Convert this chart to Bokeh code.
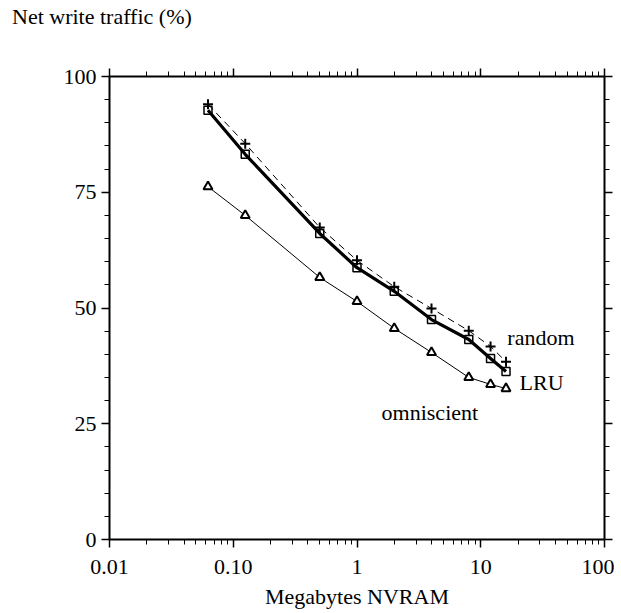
from bokeh.plotting import figure
from bokeh.models import (LogAxis, LinearAxis, FixedTicker, Div, Label, Range1d)
from bokeh.layouts import column
from bokeh.embed import file_html
from bokeh.resources import INLINE

# ---- data ----
nvram_mb = [0.0625, 0.125, 0.5, 1, 2, 4, 8, 12, 16]
random_traffic = [94.0, 85.5, 67.4, 60.3, 54.6, 49.9, 45.1, 41.7, 38.4]
lru_traffic = [92.7, 83.2, 66.1, 58.7, 53.6, 47.5, 43.2, 39.1, 36.3]
omniscient_traffic = [76.2, 70.0, 56.6, 51.4, 45.6, 40.4, 35.0, 33.5, 32.6]

x_tick_values = [0.01, 0.1, 1, 10, 100]
x_tick_labels = ["0.01", "0.10", "1", "10", "100"]
y_tick_values = [0, 25, 50, 75, 100]
y_minor_values = [5, 10, 15, 20, 30, 35, 40, 45, 55, 60, 65, 70, 80, 85, 90, 95]

series_labels = ["random", "LRU", "omniscient"]
label_x = [16.4, 20.6, 1.58]
label_y = [43.6, 33.9, 27.4]

FONT = "Liberation Serif"
FS = "22px"

x_minor = [m * d for d in x_tick_values[:-1] for m in range(2, 10)]

p = figure(x_axis_type="log", x_range=Range1d(0.01, 100), y_range=Range1d(0, 100),
           frame_width=495, frame_height=463,
           min_border_left=109, min_border_right=10, min_border_top=46, min_border_bottom=10,
           output_backend="svg", toolbar_location=None)
p.outline_line_color = None
p.xgrid.visible = False
p.ygrid.visible = False
p.background_fill_color = "white"
p.border_fill_color = "white"

xt = FixedTicker(ticks=x_tick_values, minor_ticks=x_minor)
yt = FixedTicker(ticks=y_tick_values, minor_ticks=y_minor_values)

def style(ax, labels=True):
    ax.axis_line_width = 2
    ax.axis_line_color = "black"
    ax.major_tick_in = 0
    ax.major_tick_out = 8
    ax.minor_tick_in = 0
    ax.minor_tick_out = 5
    ax.major_tick_line_width = 1.5
    ax.minor_tick_line_width = 1
    ax.major_tick_line_color = "black"
    ax.minor_tick_line_color = "black"
    ax.major_label_text_font = FONT
    ax.major_label_text_font_size = FS
    ax.major_label_text_color = "black"
    ax.axis_label_text_font = FONT
    ax.axis_label_text_font_size = FS
    ax.axis_label_text_font_style = "normal"
    ax.axis_label_text_color = "black"
    if not labels:
        ax.major_label_text_font_size = "0px"
        ax.major_label_text_alpha = 0

xa = p.xaxis[0]
xa.ticker = xt
xa.major_label_overrides = {v: l for v, l in zip(x_tick_values, x_tick_labels)}
xa.axis_label = "Megabytes NVRAM"
xa.major_label_standoff = 12
xa.axis_label_standoff = 7
style(xa)

ya = p.yaxis[0]
ya.ticker = yt
ya.major_label_standoff = 5
style(ya)

top = LogAxis(ticker=FixedTicker(ticks=x_tick_values, minor_ticks=x_minor))
style(top, labels=False)
p.add_layout(top, "above")
right = LinearAxis(ticker=FixedTicker(ticks=y_tick_values, minor_ticks=y_minor_values))
style(right, labels=False)
p.add_layout(right, "right")

# series
p.line(nvram_mb, random_traffic, line_color="black", line_width=1, line_dash="7 5")
p.scatter(nvram_mb, random_traffic, marker="cross", size=10, line_color="black", line_width=2)

p.line(nvram_mb, lru_traffic, line_color="black", line_width=3.2)
p.scatter(nvram_mb, lru_traffic, marker="square", size=8, line_color="black",
          line_width=1.5, fill_color=None)

p.line(nvram_mb, omniscient_traffic, line_color="black", line_width=1)
p.scatter(nvram_mb, omniscient_traffic, marker="triangle", size=9, line_color="black",
          line_width=2, fill_color="white")

for t, lx, ly in zip(series_labels, label_x, label_y):
    p.add_layout(Label(x=lx, y=ly, text=t, text_font=FONT, text_font_size=FS,
                       text_align="left", text_baseline="middle", text_color="black"))

title = Div(text="Net write traffic (%)", width=605, height=30, margin=(0, 0, 0, 0),
            styles={"font-family": FONT, "font-size": FS, "color": "black",
                    "padding-left": "12px", "padding-top": "6px", "line-height": "22px"})

layout = column(title, p, spacing=0)
open("out.html", "w").write(file_html(layout, INLINE))
